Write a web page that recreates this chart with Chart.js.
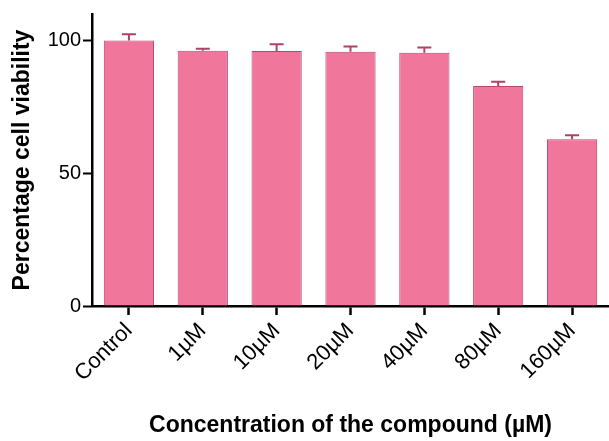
<!DOCTYPE html>
<html>
<head>
<meta charset="utf-8">
<script src="https://cdn.jsdelivr.net/npm/chart.js@4.4.0/dist/chart.umd.min.js"></script>
<style>
  html, body { margin: 0; padding: 0; background: #ffffff; overflow: hidden; }
  #wrap { width: 609px; height: 441px; position: relative; }
</style>
</head>
<body>
<div id="wrap"><canvas id="c" width="609" height="441"></canvas></div>
<script>
const categories = ['Control', '1µM', '10µM', '20µM', '40µM', '80µM', '160µM'];
const viability = [100, 96.2, 96.1, 95.8, 95.4, 82.9, 62.8];
const errorUp = [2.4, 0.7, 2.5, 2.0, 2.0, 1.6, 1.5];
const yTicks = [0, 50, 100];

const FONT = '"Liberation Sans", Arial, sans-serif';

const errorBarPlugin = {
  id: 'errorBars',
  afterDatasetsDraw(chart) {
    const ctx = chart.ctx;
    const meta = chart.getDatasetMeta(0);
    const y = chart.scales.y;
    ctx.save();
    ctx.strokeStyle = '#b3406b';
    ctx.lineWidth = 2;
    meta.data.forEach((bar, i) => {
      const x = bar.x;
      const top = y.getPixelForValue(viability[i]);
      const capY = y.getPixelForValue(viability[i] + errorUp[i]);
      ctx.beginPath();
      ctx.moveTo(x, top);
      ctx.lineTo(x, capY);
      ctx.moveTo(x - 7, capY);
      ctx.lineTo(x + 7, capY);
      ctx.stroke();
    });
    ctx.restore();
  }
};

new Chart(document.getElementById('c'), {
  type: 'bar',
  data: {
    labels: categories,
    datasets: [{
      data: viability,
      backgroundColor: '#f0769c',
      borderColor: '#b94470',
      borderWidth: 1,
      categoryPercentage: 1,
      barPercentage: 0.68
    }]
  },
  options: {
    responsive: false,
    animation: false,
    devicePixelRatio: 1,
    layout: { padding: { top: 12, right: -9, left: 0, bottom: 0 } },
    plugins: { legend: { display: false }, tooltip: { enabled: false } },
    scales: {
      x: {
        grid: {
          display: true,
          offset: false,
          drawOnChartArea: false,
          drawTicks: true,
          tickLength: 9,
          tickWidth: 2.5,
          tickColor: '#000000'
        },
        border: { display: true, color: '#000000', width: 2.5 },
        ticks: {
          color: '#000000',
          font: { family: FONT, size: 22 },
          minRotation: 45,
          maxRotation: 45,
          padding: 3
        },
        title: {
          display: true,
          text: 'Concentration of the compound (µM)',
          color: '#000000',
          font: { family: FONT, size: 23, weight: 'bold' },
          padding: { top: 0, bottom: 2 }
        },
        afterFit(scale) { scale.height = 135; }
      },
      y: {
        min: 0,
        max: 110,
        grid: {
          display: true,
          drawOnChartArea: false,
          drawTicks: true,
          tickLength: 9,
          tickWidth: 2,
          tickColor: '#000000'
        },
        border: { display: true, color: '#000000', width: 2.5 },
        afterBuildTicks(scale) { scale.ticks = yTicks.map(v => ({ value: v })); },
        ticks: {
          color: '#000000',
          font: { family: FONT, size: 20 },
          padding: 2
        },
        title: {
          display: true,
          text: 'Percentage cell viability',
          color: '#000000',
          font: { family: FONT, size: 23, weight: 'bold' },
          padding: { top: 9, bottom: 0 }
        },
        afterFit(scale) { scale.width = 92; }
      }
    }
  },
  plugins: [errorBarPlugin]
});
</script>
</body>
</html>
